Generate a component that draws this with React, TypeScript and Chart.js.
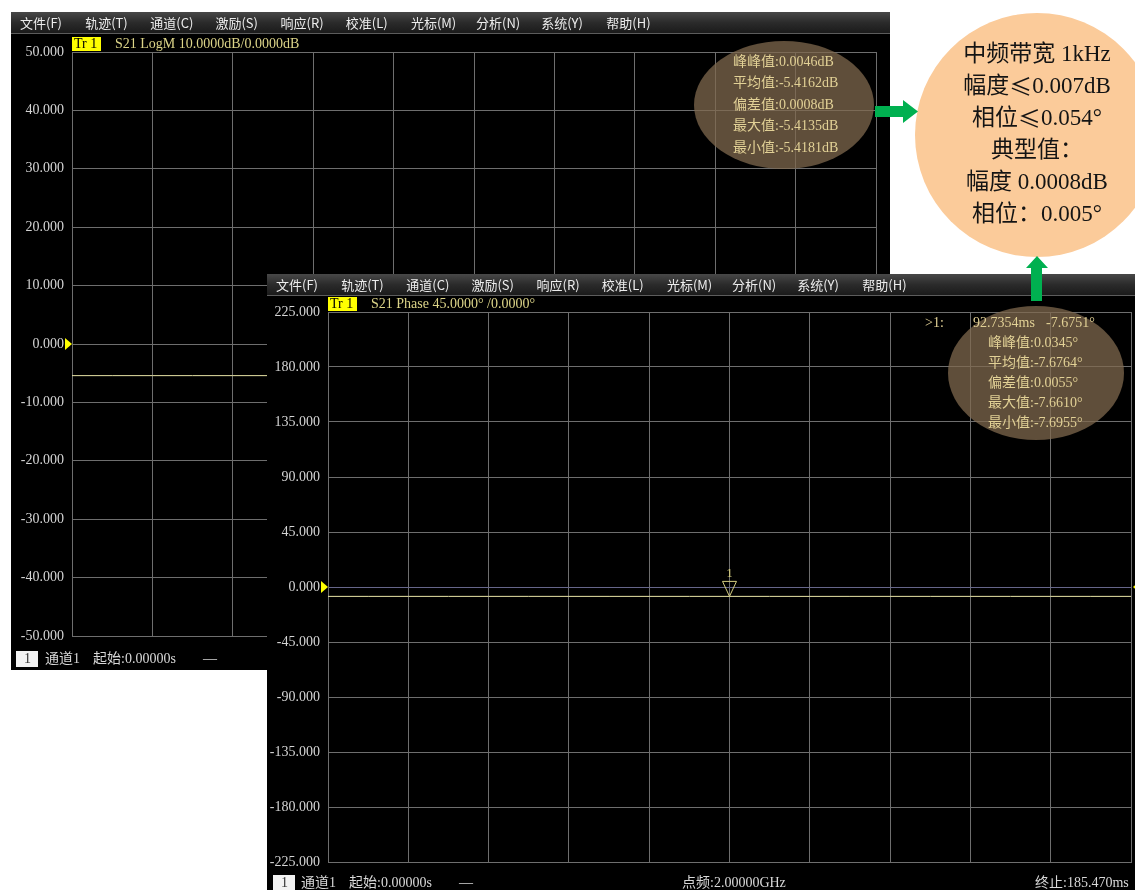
import React, { useEffect, useRef } from "react";
import { Chart, registerables } from "chart.js";

Chart.register(...registerables);

// ---------------- data ----------------
const menuItems = ["文件(F)", "轨迹(T)", "通道(C)", "激励(S)", "响应(R)", "校准(L)", "光标(M)", "分析(N)", "系统(Y)", "帮助(H)"];

const sweepTimesMs = [
  0, 9.2735, 18.547, 27.8205, 37.094, 46.3675, 55.641, 64.9145, 74.188, 83.4615, 92.735,
  102.0085, 111.282, 120.5555, 129.829, 139.1025, 148.376, 157.6495, 166.923, 176.1965, 185.47,
];
const sweepStartMs = 0;
const sweepStopMs = 185.47;
const xDivisions = 10;

const magTraceDb = [
  -5.416, -5.4165, -5.4158, -5.417, -5.4162, -5.4155, -5.4168, -5.4135, -5.4163, -5.4159, -5.4166,
  -5.4161, -5.4181, -5.4157, -5.4164, -5.416, -5.4167, -5.4156, -5.4163, -5.4162, -5.4158,
];
const magScale = [-50, 50, 10]; // min, max, step (dB)

const phaseTraceDeg = [
  -7.678, -7.6745, -7.68, -7.676, -7.679, -7.661, -7.677, -7.6755, -7.6805, -7.674, -7.6751,
  -7.6775, -7.6955, -7.6765, -7.6748, -7.6782, -7.6758, -7.6771, -7.6744, -7.6786, -7.6762,
];
const phaseScale = [-225, 225, 45]; // min, max, step (deg)

const markerTimeMs = 92.7354;
const markerPhaseDeg = -7.6751;

const magStats = ["峰峰值:0.0046dB", "平均值:-5.4162dB", "偏差值:0.0008dB", "最大值:-5.4135dB", "最小值:-5.4181dB"];
const phaseStats = ["峰峰值:0.0345°", "平均值:-7.6764°", "偏差值:0.0055°", "最大值:-7.6610°", "最小值:-7.6955°"];
const markerReadout = [">1:", "92.7354ms", "-7.6751°"];

const statusTexts = ["通道1", "起始:0.00000s", "—", "点频:2.00000GHz", "终止:185.470ms"];

const noteLines = ["中频带宽 1kHz", "幅度≤0.007dB", "相位≤0.054°", "典型值：", "幅度 0.0008dB", "相位：0.005°"];

// ---------------- styles ----------------
const GRID = "#6e6e6e";
const TRACE = "#e8e4a6";
const SCALE_TEXT = "#d4d4d4";
const ANNOT_TEXT = "#e2d196";
const HEADER_TEXT = "#dcd488";
const LATIN_FONT = '"Liberation Serif", "Noto Sans CJK SC", serif';
const CJK_FONT = '"Noto Sans CJK SC", sans-serif';
const MENU_FONT = '"Noto Sans CJK SC", sans-serif';

type ScreenOpts = {
  header: string;
  stats: string[];
  statsX: number;
  statsY: number;
  statsDy: number;
  ellipse: [number, number, number, number];
  statusY: number;
  statusX: number[];
  zeroGrid: string;
  readout?: string[];
  readoutX?: number[];
  readoutY?: number;
  marker?: { t: number; v: number; label: string };
  rightRef?: boolean;
};

function screenPlugin(o: ScreenOpts) {
  return {
    id: "vnaScreen",
    beforeDraw(chart: any) {
      const { ctx, width, height, chartArea: a } = chart;
      ctx.save();
      ctx.fillStyle = "#000";
      ctx.fillRect(0, 0, width, height);
      // menu bar
      const g = ctx.createLinearGradient(0, 0, 0, 21);
      g.addColorStop(0, "#484848");
      g.addColorStop(0.5, "#2b2b2b");
      g.addColorStop(1, "#1b1b1b");
      ctx.fillStyle = g;
      ctx.fillRect(0, 0, width, 21);
      ctx.fillStyle = "#5c5c5c";
      ctx.fillRect(0, 21, width, 1);
      ctx.font = `13px ${MENU_FONT}`;
      ctx.fillStyle = "#ededed";
      ctx.textBaseline = "middle";
      ctx.textAlign = "left";
      menuItems.forEach((m, i) => ctx.fillText(m, 9 + i * 65.15, 11));
      // trace header
      ctx.font = `14px ${LATIN_FONT}`;
      ctx.fillStyle = "#ffff00";
      ctx.fillRect(a.left, a.top - 15, 29, 14);
      ctx.fillStyle = "#000";
      ctx.fillText("Tr 1", a.left + 2, a.top - 8);
      ctx.fillStyle = HEADER_TEXT;
      ctx.fillText(o.header, a.left + 43, a.top - 8);
      // status bar
      ctx.fillStyle = "#f2f2f2";
      ctx.fillRect(o.statusX[0], o.statusY - 8, 22, 16);
      ctx.fillStyle = "#333";
      ctx.fillText("1", o.statusX[0] + 8, o.statusY);
      ctx.fillStyle = "#d8d8d8";
      statusTexts.forEach((t, i) => ctx.fillText(t, o.statusX[i + 1], o.statusY));
      ctx.restore();
    },
    afterDraw(chart: any) {
      const { ctx, chartArea: a, scales } = chart;
      const y0 = scales.y.getPixelForValue(0);
      ctx.save();
      // reference level arrow(s)
      ctx.fillStyle = "#ffff00";
      ctx.beginPath();
      ctx.moveTo(a.left - 7, y0 - 6);
      ctx.lineTo(a.left, y0);
      ctx.lineTo(a.left - 7, y0 + 6);
      ctx.closePath();
      ctx.fill();
      if (o.rightRef) {
        ctx.beginPath();
        ctx.moveTo(a.right + 9, y0 - 6);
        ctx.lineTo(a.right + 2, y0);
        ctx.lineTo(a.right + 9, y0 + 6);
        ctx.closePath();
        ctx.fill();
      }
      // marker
      if (o.marker) {
        const mx = scales.x.getPixelForValue(o.marker.t);
        const my = scales.y.getPixelForValue(o.marker.v);
        ctx.strokeStyle = "#d6cf80";
        ctx.lineWidth = 1;
        ctx.beginPath();
        ctx.moveTo(mx - 7, my - 15);
        ctx.lineTo(mx + 7, my - 15);
        ctx.lineTo(mx, my);
        ctx.closePath();
        ctx.stroke();
        ctx.fillStyle = "#d6cf80";
        ctx.font = `13px ${LATIN_FONT}`;
        ctx.textAlign = "center";
        ctx.textBaseline = "middle";
        ctx.fillText(o.marker.label, mx, my - 23);
      }
      // highlight ellipse
      const [cx, cy, rx, ry] = o.ellipse;
      ctx.fillStyle = "rgba(128,105,78,0.74)";
      ctx.beginPath();
      ctx.ellipse(cx, cy, rx, ry, 0, 0, Math.PI * 2);
      ctx.fill();
      // statistics text
      ctx.font = `14px ${LATIN_FONT}`;
      ctx.textAlign = "left";
      ctx.textBaseline = "middle";
      ctx.fillStyle = ANNOT_TEXT;
      o.stats.forEach((s, i) => ctx.fillText(s, o.statsX, o.statsY + i * o.statsDy));
      if (o.readout && o.readoutX) {
        o.readout.forEach((s, i) => ctx.fillText(s, o.readoutX![i], o.readoutY!));
      }
      ctx.restore();
    },
  };
}

function buildChart(canvas: HTMLCanvasElement, values: number[], scale: number[], pad: any, opts: ScreenOpts) {
  const [ymin, ymax, ystep] = scale;
  return new Chart(canvas, {
    type: "line",
    data: {
      datasets: [
        {
          data: sweepTimesMs.map((t, i) => ({ x: t, y: values[i] })),
          borderColor: TRACE,
          borderWidth: 1,
          pointRadius: 0,
          tension: 0,
        },
      ],
    },
    options: {
      animation: false,
      responsive: false,
      maintainAspectRatio: false,
      layout: { padding: pad },
      plugins: { legend: { display: false }, tooltip: { enabled: false } },
      scales: {
        x: {
          type: "linear",
          min: sweepStartMs,
          max: sweepStopMs,
          afterBuildTicks: (s: any) => {
            const ticks = [];
            for (let i = 0; i <= xDivisions; i++) ticks.push({ value: sweepStartMs + ((sweepStopMs - sweepStartMs) * i) / xDivisions });
            s.ticks = ticks;
          },
          ticks: { display: false },
          grid: { color: GRID, drawTicks: false, lineWidth: 1 },
          border: { color: GRID },
        },
        y: {
          min: ymin,
          max: ymax,
          ticks: {
            stepSize: ystep,
            padding: 8,
            color: SCALE_TEXT,
            font: { family: LATIN_FONT, size: 14 },
            callback: (v: any) => Number(v).toFixed(3),
          },
          grid: {
            color: (c: any) => (c.tick && c.tick.value === 0 ? opts.zeroGrid : GRID),
            drawTicks: false,
            lineWidth: 1,
          },
          border: { color: GRID },
          afterFit: (s: any) => {
            s.width = 61;
          },
        },
      },
    },
    plugins: [screenPlugin(opts)],
  } as any);
}

function Screen(props: {
  left: number;
  top: number;
  w: number;
  h: number;
  values: number[];
  scale: number[];
  pad: any;
  opts: ScreenOpts;
}) {
  const ref = useRef<HTMLCanvasElement | null>(null);
  useEffect(() => {
    if (!ref.current) return;
    const c = buildChart(ref.current, props.values, props.scale, props.pad, props.opts);
    return () => c.destroy();
  }, []);
  return (
    <div style={{ position: "absolute", left: props.left, top: props.top, width: props.w, height: props.h }}>
      <canvas ref={ref} width={props.w} height={props.h} style={{ width: props.w, height: props.h, display: "block" }} />
    </div>
  );
}

function NoteLine({ text, y }: { text: string; y: number }) {
  const parts = text.split("≤");
  return (
    <text x={1037} y={y} textAnchor="middle" dominantBaseline="central" fontSize={23} fontFamily={LATIN_FONT} fill="#141414">
      {parts.map((p, i) => (
        <React.Fragment key={i}>
          {i > 0 ? <tspan fontFamily={CJK_FONT}>≤</tspan> : null}
          <tspan>{p}</tspan>
        </React.Fragment>
      ))}
    </text>
  );
}

export default function App() {
  const backOpts: ScreenOpts = {
    header: "S21 LogM 10.0000dB/0.0000dB",
    stats: magStats,
    statsX: 722,
    statsY: 50,
    statsDy: 21.5,
    ellipse: [773, 93, 90, 64],
    statusY: 647,
    statusX: [5, 34, 82, 192, 415, 768],
    zeroGrid: GRID,
  };
  const frontOpts: ScreenOpts = {
    header: "S21 Phase 45.0000° /0.0000°",
    stats: phaseStats,
    statsX: 721,
    statsY: 69,
    statsDy: 20,
    ellipse: [769, 99, 88, 67],
    statusY: 609,
    statusX: [6, 34, 82, 192, 415, 768],
    zeroGrid: "#66668a",
    readout: markerReadout,
    readoutX: [658, 706, 779],
    readoutY: 49,
    marker: { t: markerTimeMs, v: markerPhaseDeg, label: "1" },
    rightRef: true,
  };
  return (
    <div style={{ position: "absolute", left: 0, top: 0, width: 1135, height: 890, overflow: "hidden", background: "#fff" }}>
      <Screen left={11} top={12} w={879} h={658} values={magTraceDb} scale={magScale} pad={{ left: 0, top: 40, right: 14, bottom: 34 }} opts={backOpts} />
      <Screen left={267} top={274} w={868} h={616} values={phaseTraceDeg} scale={phaseScale} pad={{ left: 0, top: 38, right: 4, bottom: 28 }} opts={frontOpts} />
      <svg width={1135} height={890} style={{ position: "absolute", left: 0, top: 0, pointerEvents: "none" }}>
        <circle cx={1037} cy={135} r={122} fill="#FBCB9A" />
        {noteLines.map((t, i) => (
          <NoteLine key={i} text={t} y={53 + i * 32} />
        ))}
        <polygon points="875,106 903,106 903,100 918,111.5 903,123 903,117 875,117" fill="#00B050" />
        <polygon points="1037,256 1048,268 1042,268 1042,301 1031,301 1031,268 1026,268" fill="#00B050" />
      </svg>
    </div>
  );
}
